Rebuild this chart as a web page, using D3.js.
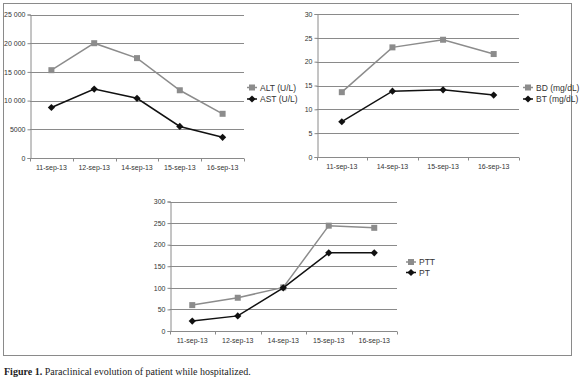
<!DOCTYPE html>
<html>
<head>
<meta charset="utf-8">
<script src="https://cdn.jsdelivr.net/npm/d3@7"></script>
<style>
  body { margin: 0; background: #fff; }
  svg { display: block; }
</style>
</head>
<body>
<div id="chart"></div>
<script>
const dates1 = ["11-sep-13", "12-sep-13", "14-sep-13", "15-sep-13", "16-sep-13"];
const alt = [15300, 20000, 17400, 11800, 7700];
const ast = [8800, 12000, 10400, 5500, 3600];
const ticks1 = [0, 5000, 10000, 15000, 20000, 25000];

const dates2 = ["11-sep-13", "14-sep-13", "15-sep-13", "16-sep-13"];
const bd = [13.6, 23, 24.6, 21.6];
const bt = [7.4, 13.8, 14.1, 13];
const ticks2 = [0, 5, 10, 15, 20, 25, 30];

const dates3 = ["11-sep-13", "12-sep-13", "14-sep-13", "15-sep-13", "16-sep-13"];
const ptt = [60, 77, 101, 244, 239];
const pt = [23, 35, 100, 181, 181];
const ticks3 = [0, 50, 100, 150, 200, 250, 300];

const width = 580, height = 381;
const gridColor = "#8a8a8a";
const grayLine = "#8c8c8c";
const textColor = "#333";

const svg = d3.select("#chart").append("svg")
    .attr("width", width)
    .attr("height", height);

// outer frame
svg.append("rect")
    .attr("x", 3.5).attr("y", 3.5)
    .attr("width", 568).attr("height", 352)
    .attr("fill", "none")
    .attr("stroke", "#8a8a8a")
    .attr("stroke-width", 1);

function fmt(v) {
    if (v >= 10000) return d3.format(",")(v).replace(",", " ");
    return String(v);
}

// rotated square marker
const diamondPath = "M0,-3.6L3.6,0L0,3.6L-3.6,0Z";

function drawChart(opts) {
    const g = svg.append("g");
    const x = d3.scaleBand().domain(opts.dates).range([opts.x0, opts.x1]);
    const y = d3.scaleLinear().domain([0, opts.max]).range([opts.y0, opts.y1]);
    const cx = d => x(d) + x.bandwidth() / 2;

    // gridlines
    g.selectAll(".grid")
        .data(opts.ticks.filter(t => t > 0))
        .join("line")
        .attr("x1", opts.x0).attr("x2", opts.x1)
        .attr("y1", d => Math.round(y(d)) + 0.5)
        .attr("y2", d => Math.round(y(d)) + 0.5)
        .attr("stroke", gridColor)
        .attr("stroke-width", 1);

    // y axis
    const yAxis = g.append("g")
        .attr("transform", `translate(${Math.round(opts.x0) + 0.5},0)`)
        .call(d3.axisLeft(y).tickValues(opts.ticks).tickSize(3).tickPadding(2).tickFormat(fmt));
    yAxis.select(".domain").attr("stroke", gridColor);
    yAxis.selectAll(".tick line").attr("stroke", gridColor);
    yAxis.selectAll("text")
        .attr("fill", textColor)
        .style("font-family", "'Liberation Sans', Arial, sans-serif")
        .style("font-size", "7px");

    // x axis line
    const yb = Math.round(opts.y0) + 0.5;
    g.append("line")
        .attr("x1", opts.x0).attr("x2", opts.x1)
        .attr("y1", yb).attr("y2", yb)
        .attr("stroke", gridColor);

    // boundary ticks
    const bounds = opts.dates.map(d => x(d)).concat([opts.x1]);
    g.selectAll(".xt")
        .data(bounds)
        .join("line")
        .attr("x1", d => Math.round(d) + 0.5).attr("x2", d => Math.round(d) + 0.5)
        .attr("y1", yb).attr("y2", yb + 3)
        .attr("stroke", gridColor);

    g.selectAll(".xl")
        .data(opts.dates)
        .join("text")
        .attr("x", d => cx(d))
        .attr("y", opts.y0 + 12)
        .attr("text-anchor", "middle")
        .attr("fill", textColor)
        .style("font-family", "'Liberation Sans', Arial, sans-serif")
        .style("font-size", "7px")
        .text(d => d);

    const line = d3.line()
        .x((d, i) => cx(opts.dates[i]))
        .y(d => y(d));

    // series A (gray squares)
    g.append("path")
        .datum(opts.a)
        .attr("d", line)
        .attr("fill", "none")
        .attr("stroke", grayLine)
        .attr("stroke-width", 1.5);
    g.selectAll(".sq")
        .data(opts.a)
        .join("rect")
        .attr("x", (d, i) => cx(opts.dates[i]) - 3)
        .attr("y", d => y(d) - 3)
        .attr("width", 6).attr("height", 6)
        .attr("fill", grayLine);

    // series B (black diamonds)
    g.append("path")
        .datum(opts.b)
        .attr("d", line)
        .attr("fill", "none")
        .attr("stroke", "#111")
        .attr("stroke-width", 1.5);
    g.selectAll(".dm")
        .data(opts.b)
        .join("path")
        .attr("d", diamondPath)
        .attr("transform", (d, i) => `translate(${cx(opts.dates[i])},${y(d)})`)
        .attr("fill", "#111");

    // legend
    const lg = g.append("g").attr("transform", `translate(${opts.lx},${opts.ly})`);
    lg.append("line").attr("x1", 0).attr("x2", 10).attr("y1", 0).attr("y2", 0)
        .attr("stroke", grayLine).attr("stroke-width", 1.5);
    lg.append("rect").attr("x", 2).attr("y", -3).attr("width", 6).attr("height", 6).attr("fill", grayLine);
    lg.append("line").attr("x1", 0).attr("x2", 10).attr("y1", opts.lgap).attr("y2", opts.lgap)
        .attr("stroke", "#111").attr("stroke-width", 1.5);
    lg.append("path").attr("d", diamondPath).attr("transform", `translate(5,${opts.lgap})`).attr("fill", "#111");
    lg.selectAll("text")
        .data(opts.names)
        .join("text")
        .attr("x", 13)
        .attr("y", (d, i) => i * opts.lgap + 3)
        .attr("fill", textColor)
        .style("font-family", "'Liberation Sans', Arial, sans-serif")
        .style("font-size", "8.5px")
        .text(d => d);
}

drawChart({
    dates: dates1, a: alt, b: ast, ticks: ticks1, max: 25000,
    x0: 30, x1: 244, y0: 158, y1: 14.5,
    names: ["ALT (U/L)", "AST (U/L)"], lx: 247, ly: 87.5, lgap: 11.5
});

drawChart({
    dates: dates2, a: bd, b: bt, ticks: ticks2, max: 30,
    x0: 316.5, x1: 519, y0: 157, y1: 14,
    names: ["BD (mg/dL)", "BT (mg/dL)"], lx: 523, ly: 87.5, lgap: 11.5
});

drawChart({
    dates: dates3, a: ptt, b: pt, ticks: ticks3, max: 300,
    x0: 169.5, x1: 397, y0: 331, y1: 201.5,
    names: ["PTT", "PT"], lx: 406, ly: 262, lgap: 10.5
});

// caption
const cap = svg.append("text")
    .attr("x", 4)
    .attr("y", 375)
    .attr("fill", "#222")
    .style("font-family", "'Liberation Serif', 'Times New Roman', serif")
    .style("font-size", "10px");
cap.append("tspan").attr("font-weight", "bold").text("Figure 1.");
cap.append("tspan").text(" Paraclinical evolution of patient while hospitalized.");
</script>
</body>
</html>
